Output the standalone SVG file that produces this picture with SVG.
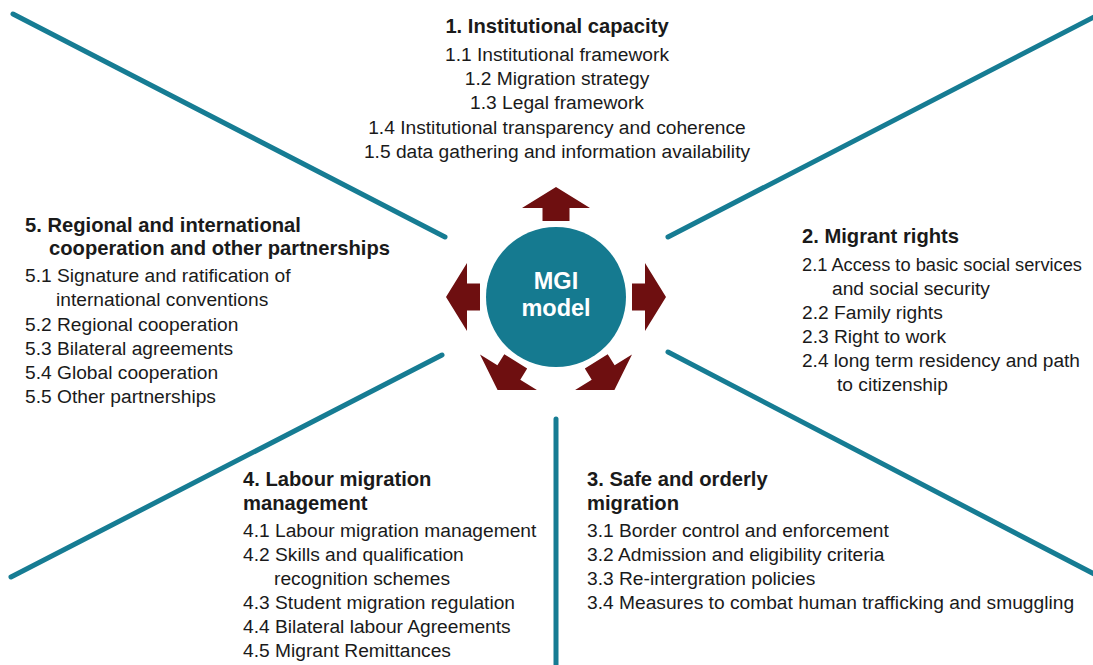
<svg xmlns="http://www.w3.org/2000/svg" width="1093" height="665" viewBox="0 0 1093 665">
<style>
.ln{stroke:#167C93;stroke-width:5;stroke-linecap:round;fill:none}
.ar{fill:#6E0F10}
text{font-family:"Liberation Sans",Arial,sans-serif;fill:#1a1a1a}
.t{font-size:20.2px;font-weight:bold}
.i{font-size:19.2px}
.c{font-size:23.5px;font-weight:bold;fill:#fff;text-anchor:middle}
</style>
<defs>
<polygon id="arrow" points="76,-13.5 89,-13.5 89,-34 110,0 89,34 89,13.5 76,13.5"/>
<clipPath id="clipBottom"><rect x="0" y="0" width="1093" height="390"/></clipPath>
</defs>
<rect width="1093" height="665" fill="#fff"/>
<g id="connectors">
<line class="ln" x1="13" y1="14" x2="445" y2="237"/>
<line class="ln" x1="1096" y1="16" x2="668" y2="237"/>
<line class="ln" x1="11" y1="577" x2="442" y2="355"/>
<line class="ln" x1="668" y1="352" x2="1096" y2="575"/>
<line class="ln" x1="556" y1="419" x2="556" y2="670"/>
</g>
<g id="center">
<g class="ar" transform="translate(556,297)">
<use href="#arrow" transform="rotate(-90)"/>
<use href="#arrow" transform="rotate(0)"/>
<use href="#arrow" transform="rotate(180)"/>
</g>
<g clip-path="url(#clipBottom)">
<g class="ar" transform="translate(556,297)">
<use href="#arrow" transform="rotate(58)"/>
<use href="#arrow" transform="rotate(122)"/>
</g>
</g>
<circle cx="556" cy="297" r="70" fill="#157A90"/>
<text class="c"><tspan x="556" y="289">MGI</tspan><tspan x="556" y="316">model</tspan></text>
</g>
<g id="node1" text-anchor="middle">
<text class="t" x="557" y="33">1. Institutional capacity</text>
<text class="i" x="557" y="61">1.1 Institutional framework</text>
<text class="i" x="557" y="85">1.2 Migration strategy</text>
<text class="i" x="557" y="109">1.3 Legal framework</text>
<text class="i" x="557" y="134">1.4 Institutional transparency and coherence</text>
<text class="i" x="557" y="158">1.5 data gathering and information availability</text>
</g>
<g id="node2">
<text class="t" x="802" y="243">2. Migrant rights</text>
<text class="i" x="802" y="271" style="font-size:18px" textLength="280" lengthAdjust="spacingAndGlyphs">2.1 Access to basic social services</text>
<text class="i" x="832" y="295">and social security</text>
<text class="i" x="802" y="319">2.2 Family rights</text>
<text class="i" x="802" y="343">2.3 Right to work</text>
<text class="i" x="802" y="367" textLength="278" lengthAdjust="spacingAndGlyphs">2.4 long term residency and path</text>
<text class="i" x="837" y="391">to citizenship</text>
</g>
<g id="node3">
<text class="t" x="587" y="486">3. Safe and orderly</text>
<text class="t" x="587" y="510">migration</text>
<text class="i" x="587" y="537">3.1 Border control and enforcement</text>
<text class="i" x="587" y="561">3.2 Admission and eligibility criteria</text>
<text class="i" x="587" y="585">3.3 Re-intergration policies</text>
<text class="i" x="587" y="609">3.4 Measures to combat human trafficking and smuggling</text>
</g>
<g id="node4">
<text class="t" x="243" y="486">4. Labour migration</text>
<text class="t" x="243" y="510">management</text>
<text class="i" x="243" y="537">4.1 Labour migration management</text>
<text class="i" x="243" y="561">4.2 Skills and qualification</text>
<text class="i" x="274" y="585">recognition schemes</text>
<text class="i" x="243" y="609">4.3 Student migration regulation</text>
<text class="i" x="243" y="633">4.4 Bilateral labour Agreements</text>
<text class="i" x="243" y="657">4.5 Migrant Remittances</text>
</g>
<g id="node5">
<text class="t" x="25" y="232">5. Regional and international</text>
<text class="t" x="49" y="255">cooperation and other partnerships</text>
<text class="i" x="25" y="282">5.1 Signature and ratification of</text>
<text class="i" x="56" y="306">international conventions</text>
<text class="i" x="25" y="331">5.2 Regional cooperation</text>
<text class="i" x="25" y="355">5.3 Bilateral agreements</text>
<text class="i" x="25" y="379">5.4 Global cooperation</text>
<text class="i" x="25" y="403">5.5 Other partnerships</text>
</g>
</svg>
